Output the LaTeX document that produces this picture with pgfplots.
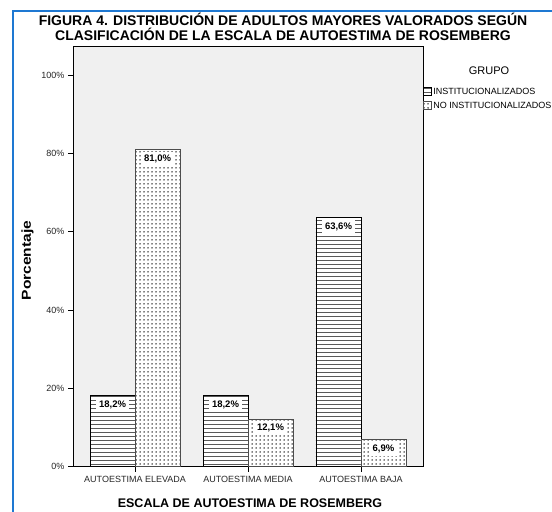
\documentclass[border=0pt]{standalone}
\usepackage{fontspec}
\setmainfont{Liberation Sans}
\usepackage{graphicx}
\usepackage{pgfplots}
\pgfplotsset{compat=1.18}
\usetikzlibrary{patterns.meta}
\definecolor{frameblue}{RGB}{30,120,210}
\definecolor{plotbg}{RGB}{240,240,240}
\begin{document}
\begin{tikzpicture}[x=1bp,y=1bp]
\useasboundingbox (0,0) rectangle (552,512);
\fill[white] (0,0) rectangle (552,512);
\draw[frameblue, line width=2bp] (12.5,-2) -- (12.5,500.5) -- (560,500.5);
\begin{axis}[
  at={(73bp,45.3bp)}, anchor=south west,
  scale only axis, width=350bp, height=420.7bp,
  xmin=-0.549, xmax=2.549, ymin=0, ymax=107.5,
  ybar=0pt, bar width=45bp,
  axis background/.style={fill=plotbg},
  axis line style={black, line width=0.8bp},
  tick style={black, line width=0.8bp},
  tick align=outside, major tick length=5bp,
  xtick pos=bottom, ytick pos=left,
  xtick={0,1,2},
  xticklabels={AUTOESTIMA ELEVADA,AUTOESTIMA MEDIA,AUTOESTIMA BAJA},
  ytick={0,20,40,60,80,100},
  yticklabel={\pgfmathprintnumber{\tick}\%},
  /pgf/number format/assume math mode=true,
  ticklabel style={font=\fontsize{9bp}{10bp}\selectfont, text=black!85},
  xticklabel style={yshift=-1bp},
  nodes near coords={\pgfmathprintnumber[fixed,fixed zerofill,precision=1,use comma]{\pgfplotspointmeta}\%},
  nodes near coords style={anchor=north, yshift=-1.5bp, fill=white, inner xsep=3bp, inner ysep=3bp, text=black, font=\bfseries\fontsize{9.5bp}{10bp}\selectfont},
  legend style={at={(axis description cs:1.0,0.905)}, anchor=north west, draw=none, fill=none, inner sep=0pt, row sep=2bp, font=\fontsize{9bp}{10bp}\selectfont},
  legend cell align=left,
  legend image code/.code={\draw[#1, line width=0.6bp] (0bp,-3.5bp) rectangle (7.5bp,4.5bp);},
]
\addplot[draw=black, line width=0.8bp, fill=white, postaction={pattern={Lines[angle=0,distance=4bp,line width=0.9bp]}, pattern color=black!65}]
  coordinates {(0,18.2) (1,18.2) (2,63.6)};
\addplot[draw=black!70, line width=0.8bp, fill=white, postaction={pattern={Dots[distance=4bp,radius=0.75bp]}, pattern color=black}]
  coordinates {(0,81.0) (1,12.1) (2,6.9)};
\legend{INSTITUCIONALIZADOS, NO INSTITUCIONALIZADOS}
\end{axis}
\node[font=\bfseries\fontsize{14bp}{14.5bp}\selectfont, align=center] at (283,485.3) {FIGURA 4. DISTRIBUCIÓN DE ADULTOS MAYORES VALORADOS SEGÚN\\CLASIFICACIÓN DE LA ESCALA DE AUTOESTIMA DE ROSEMBERG};
\node[font=\bfseries\fontsize{12.5bp}{13bp}\selectfont] at (250,9) {ESCALA DE AUTOESTIMA DE ROSEMBERG};
\node[font=\bfseries\fontsize{13bp}{14bp}\selectfont, rotate=90] at (27.5,251.5) {\scalebox{1.2}[1]{Porcentaje}};
\node[font=\fontsize{11bp}{12bp}\selectfont] at (489,441) {GRUPO};
\end{tikzpicture}
\end{document}
